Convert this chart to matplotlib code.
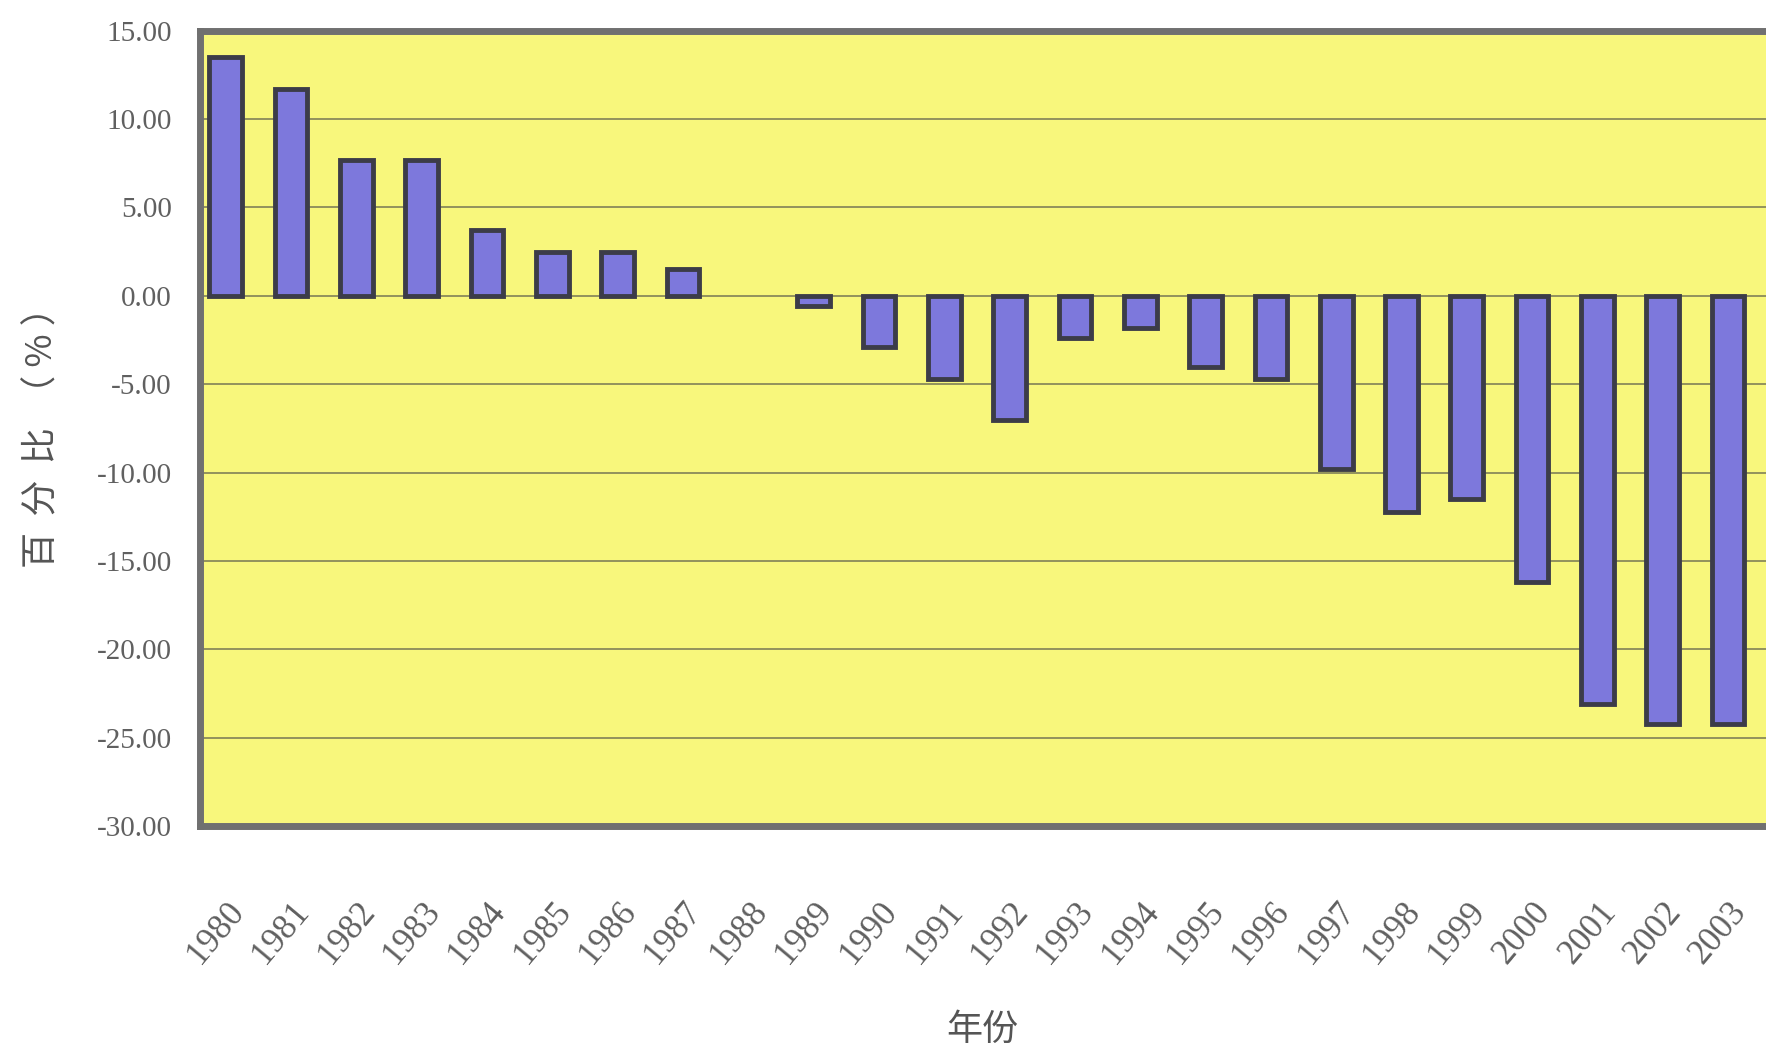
import numpy as np
import matplotlib
matplotlib.use('Agg')
import matplotlib.pyplot as plt

# 年份和百分比
years = [str(y) for y in range(1980, 2004)]
values = [13.5, 11.7, 7.7, 7.7, 3.7, 2.5, 2.5, 1.5, 0.0, -0.6,
          -2.9, -4.7, -7.0, -2.4, -1.8, -4.0, -4.7, -9.8, -12.2, -11.5,
          -16.2, -23.1, -24.2, -24.2]
y_ticks = [15, 10, 5, 0, -5, -10, -15, -20, -25, -30]

plt.rcParams['font.family'] = ['Liberation Serif', 'Noto Sans CJK SC']

fig = plt.figure(figsize=(17.66, 10.58), dpi=100)
ax = fig.add_axes([0.113, 0.219, 0.887, 0.752])
ax.set_facecolor('#f8f77c')

x = np.arange(len(years))
vals = np.array(values)
nz = vals != 0  # 1988 没有柱
ax.bar(x[nz], vals[nz], width=0.5, color='#7d78dc', edgecolor='#3c3c48',
       linewidth=3.5, zorder=3)

ax.set_ylim(-30, 15)
ax.set_xlim(-0.4, 23.58)
ax.set_yticks(y_ticks)
ax.set_yticklabels([f'{v:.2f}' for v in y_ticks], fontsize=21, color='#606060')
ax.set_xticks(x)
ax.set_xticklabels(years, rotation=50, ha='right', rotation_mode='anchor',
                   fontsize=25, color='#606060')
ax.tick_params(axis='x', length=0, pad=50)
ax.tick_params(axis='y', length=0, pad=20)

ax.yaxis.grid(True, color='#8a8a5a', linewidth=1.3, zorder=1)
ax.set_axisbelow(True)

for side in ['top', 'left', 'bottom']:
    ax.spines[side].set_color('#707070')
    ax.spines[side].set_linewidth(5)
ax.spines['right'].set_visible(False)

ax.set_ylabel('百  分  比  （ % ）', family=['Noto Sans CJK SC'], fontsize=26,
              color='#555555', labelpad=26)
ax.set_xlabel('年份', family=['Noto Sans CJK SC'], fontsize=26,
              color='#555555', labelpad=30)

fig.savefig('out.png', facecolor='white')
